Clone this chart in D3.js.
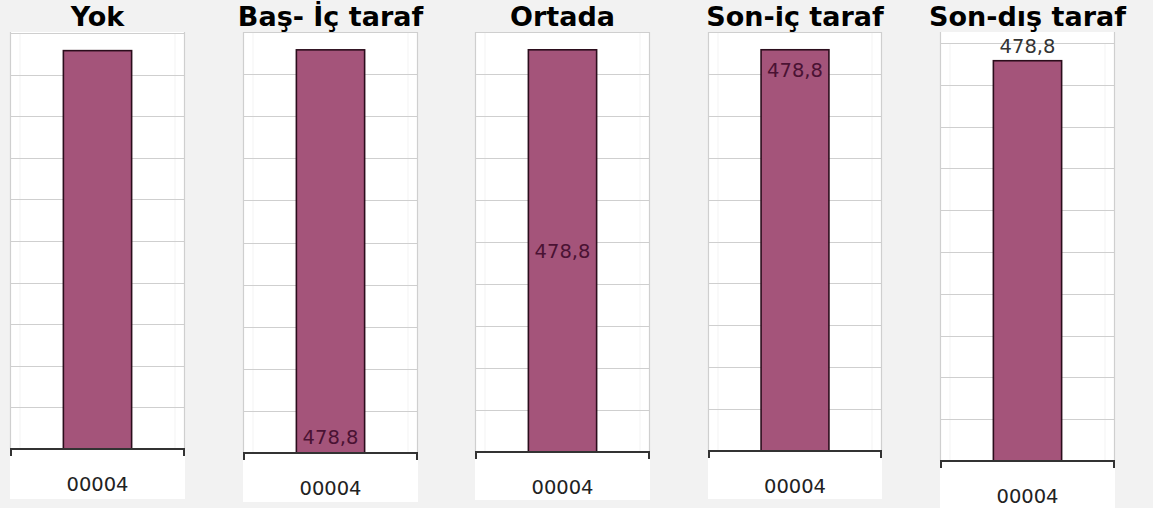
<!DOCTYPE html>
<html>
<head>
<meta charset="utf-8">
<script src="https://cdn.jsdelivr.net/npm/d3@7"></script>
<style>
  html, body { margin: 0; padding: 0; background: #f2f2f2; }
  svg { display: block; }
</style>
</head>
<body>
<svg id="chart" width="1153" height="508"></svg>
<script>
// ---- data ----
const titles = ["Yok", "Baş- İç taraf", "Ortada", "Son-iç taraf", "Son-dış taraf"];
const labelModes = ["none", "insideBase", "center", "insideEnd", "outsideEnd"];
const categories = ["00004"];
const values = [478.8];
const yTicks = [0, 50, 100, 150, 200, 250, 300, 350, 400, 450, 500];
const yDomain = [0, 500];

// ---- layout (pixel geometry of each panel) ----
const panels = [
  { x0: 10,  x1: 185,  boxTop: 32, plotTop: 33, axisY: 449, boxBottom: 499 },
  { x0: 243, x1: 418,  boxTop: 32, plotTop: 32, axisY: 453, boxBottom: 502 },
  { x0: 475, x1: 650,  boxTop: 32, plotTop: 32, axisY: 452, boxBottom: 500 },
  { x0: 708, x1: 882,  boxTop: 32, plotTop: 32, axisY: 451, boxBottom: 499 },
  { x0: 940, x1: 1115, boxTop: 32, plotTop: 43, axisY: 461, boxBottom: 508 }
];

const fmt = d3.formatLocale({ decimal: ",", thousands: ".", grouping: [3], currency: ["", ""] }).format(".1f");

const svg = d3.select("#chart");
const barFill = "#a4547a";
const barStroke = "#2b0d1c";
const labelColor = "#4a1233";

panels.forEach((p, i) => {
  const g = svg.append("g");
  const x = d3.scaleBand().domain(categories).range([p.x0, p.x1]).paddingInner(0.61).paddingOuter(0.305);
  const y = d3.scaleLinear().domain(yDomain).range([p.axisY, p.plotTop]);

  // white plot box
  g.append("rect")
    .attr("x", p.x0).attr("y", p.boxTop)
    .attr("width", p.x1 - p.x0).attr("height", p.boxBottom - p.boxTop)
    .attr("fill", "#ffffff");

  // faint inner vertical lines
  [p.x0 + 10, p.x1 - 10].forEach(vx => {
    g.append("line").attr("x1", vx).attr("x2", vx)
      .attr("y1", p.plotTop).attr("y2", p.axisY)
      .attr("stroke", "#f3f3f3").attr("stroke-width", 1);
  });

  // horizontal gridlines
  g.selectAll("line.grid").data(yTicks.filter(t => t > 0)).enter().append("line")
    .attr("class", "grid")
    .attr("x1", p.x0).attr("x2", p.x1)
    .attr("y1", d => Math.round(y(d)) + 0.5).attr("y2", d => Math.round(y(d)) + 0.5)
    .attr("stroke", "#cfcfcf").attr("stroke-width", 1.2);

  // side borders of the plot
  [p.x0 + 0.5, p.x1 - 0.5].forEach(vx => {
    g.append("line").attr("x1", vx).attr("x2", vx)
      .attr("y1", p.boxTop).attr("y2", p.axisY)
      .attr("stroke", "#cfcfcf").attr("stroke-width", 1.2);
  });

  // bars
  g.selectAll("rect.bar").data(values).enter().append("rect")
    .attr("class", "bar")
    .attr("x", (d, j) => x(categories[j]))
    .attr("y", d => y(d))
    .attr("width", x.bandwidth())
    .attr("height", d => y(0) - y(d))
    .attr("fill", barFill)
    .attr("stroke", barStroke).attr("stroke-width", 1.6);

  // x axis
  const xAxis = d3.axisBottom(x).tickSize(0).tickPadding(0);
  const ax = g.append("g").attr("transform", `translate(0,${p.axisY})`).call(xAxis);
  ax.select(".domain").remove();
  ax.selectAll(".tick text")
    .attr("y", 35).attr("dy", "0.35em")
    .attr("font-family", "DejaVu Sans, Verdana, sans-serif")
    .attr("font-size", 19.5).attr("fill", "#222");
  g.append("path")
    .attr("d", `M${p.x0 + 1},${p.axisY + 7}V${p.axisY}H${p.x1 - 1}V${p.axisY + 7}`)
    .attr("fill", "none").attr("stroke", "#333").attr("stroke-width", 2);

  // value labels
  const mode = labelModes[i];
  if (mode !== "none") {
    g.selectAll("text.val").data(values).enter().append("text")
      .attr("class", "val")
      .attr("x", (d, j) => x(categories[j]) + x.bandwidth() / 2)
      .attr("y", d => {
        if (mode === "insideBase") return y(0) - 16;
        if (mode === "center") return (y(0) + y(d)) / 2;
        if (mode === "insideEnd") return y(d) + 20;
        return y(d) - 15;
      })
      .attr("dy", "0.35em")
      .attr("text-anchor", "middle")
      .attr("font-family", "DejaVu Sans, Verdana, sans-serif")
      .attr("font-size", 19.5)
      .attr("fill", mode === "outsideEnd" ? "#333" : labelColor)
      .text(d => fmt(d));
  }

  // title
  svg.append("text")
    .attr("x", (p.x0 + p.x1) / 2)
    .attr("y", 26)
    .attr("text-anchor", "middle")
    .attr("font-family", "DejaVu Sans, Verdana, sans-serif")
    .attr("font-weight", "bold")
    .attr("font-size", 27)
    .attr("fill", "#000")
    .text(titles[i]);
});
</script>
</body>
</html>
